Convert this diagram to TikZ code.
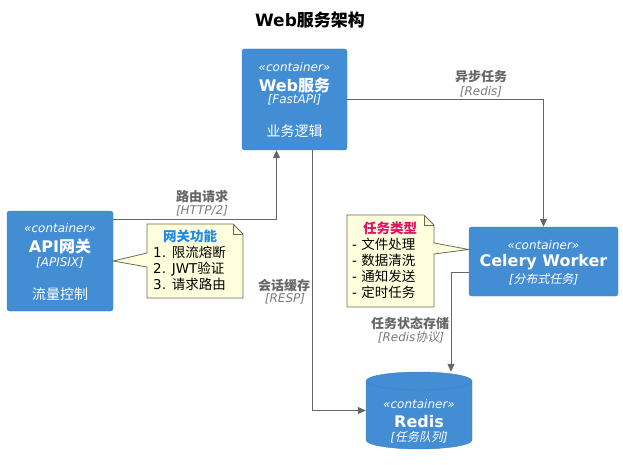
\documentclass[tikz,border=0pt]{standalone}
\usepackage{fontspec}
\setmainfont{DejaVu Sans}
\newfontfamily\cjk[AutoFakeSlant=0.2]{Noto Sans CJK SC}
\newcommand\zh[1]{{\cjk #1}}
\usetikzlibrary{arrows.meta}
\usetikzlibrary{positioning}

\definecolor{boxblue}{HTML}{438DD5}
\definecolor{boxline}{HTML}{3C7FC0}
\definecolor{relgray}{HTML}{666666}
\definecolor{techgray}{HTML}{7A7A7A}
\definecolor{notefill}{HTML}{FFFFDD}
\definecolor{noteline}{HTML}{6B6B55}
\definecolor{gwblue}{HTML}{1E8AE6}
\definecolor{taskred}{HTML}{DE1464}

\begin{document}
\begin{tikzpicture}[x=1pt, y=-1pt,
  container/.style={draw=boxline, fill=boxblue, rounded corners=2.5pt, inner sep=0pt},
  stereo/.style={text=white, font=\fontsize{12}{14}\selectfont\itshape, inner sep=0pt},
  cname/.style={text=white, font=\fontsize{16}{19}\selectfont\bfseries, inner sep=0pt},
  descr/.style={text=white, font=\fontsize{14}{16}\selectfont, inner sep=0pt},
  rel/.style={draw=relgray, line width=1pt, -{Triangle[length=8pt,width=7pt]}},
  rellabel/.style={text=relgray, font=\fontsize{13}{15}\selectfont\bfseries, inner sep=0pt},
  reltech/.style={text=techgray, font=\fontsize{12}{14}\selectfont\itshape, inner sep=0pt},
  note/.style={draw=noteline, fill=notefill, line width=0.8pt},
  notetext/.style={font=\fontsize{13.5}{16}\selectfont, align=left, inner sep=0pt},
  notetitle/.style={font=\fontsize{13.5}{16}\selectfont\bfseries, inner sep=0pt},
]
\useasboundingbox (0,0) rectangle (623,465);

\node[font=\fontsize{17}{20}\selectfont\bfseries, inner sep=0pt] (title) at (310,20) {Web\zh{服务架构}};

% containers
\node[container, minimum width=105pt, minimum height=101pt] (web) at (294.5,99.5) {};
\node[stereo] (webStereo) at (294.5,67) {«container»};
\node[cname] (webName) at (294.5,85) {Web\zh{服务}};
\node[stereo] (webTech) at (294.5,100) {[FastAPI]};
\node[descr] (webDescr) at (294.5,131) {\zh{业务逻辑}};

\node[container, minimum width=106pt, minimum height=100pt] (api) at (60,261) {};
\node[stereo] (apiStereo) at (60,228) {«container»};
\node[cname] (apiName) at (60,246) {API\zh{网关}};
\node[stereo] (apiTech) at (60,263) {[APISIX]};
\node[descr] (apiDescr) at (60,294) {\zh{流量控制}};

\node[container, minimum width=149pt, minimum height=69pt] (celery) at (543.5,261.5) {};
\node[stereo] (celStereo) at (543.5,245) {«container»};
\node[cname] (celName) at (543.5,262) {Celery Worker};
\node[stereo] (celTech) at (543.5,279) {[\zh{分布式任务}]};

% redis cylinder
\node[minimum width=106pt, minimum height=77pt, inner sep=0pt] (redis) at (419,410.5) {};
\filldraw[draw=boxline, fill=boxblue] (366,381) -- (366,440)
  arc[start angle=180, end angle=360, x radius=53pt, y radius=9pt] -- (472,381)
  arc[start angle=0, end angle=180, x radius=53pt, y radius=9pt] -- cycle;
\draw[boxline] (366,381) arc[start angle=180, end angle=360, x radius=53pt, y radius=9pt];
\node[stereo] (redStereo) at (419,404) {«container»};
\node[cname] (redName) at (419,422) {Redis};
\node[stereo] (redTech) at (419,437) {[\zh{任务队列}]};

% notes
\filldraw[note] (147,224) -- (233,224) -- (243,234) -- (243,298) -- (147,298)
  -- (147,267) -- (api.east) -- (147,253) -- cycle;
\draw[note, fill=none] (233,224) -- (233,234) -- (243,234);
\node[notetitle, text=gwblue] (gwTitle) at (190,236) {\zh{网关功能}};
\node[notetext, anchor=west] (gwItems) at (153,268)
  {1. \zh{限流熔断}\\2. JWT\zh{验证}\\3. \zh{请求路由}};

\filldraw[note] (347,215) -- (424,215) -- (434,225) -- (434,243)
  -- ([yshift=12pt]celery.west) -- (434,254) -- (434,307) -- (347,307) -- cycle;
\draw[note, fill=none] (424,215) -- (424,225) -- (434,225);
\node[notetitle, text=taskred] (taskTitle) at (390,228) {\zh{任务类型}};
\node[notetext, anchor=west] (taskItems) at (352,268)
  {- \zh{文件处理}\\- \zh{数据清洗}\\- \zh{通知发送}\\- \zh{定时任务}};

% relations
\draw[rel] ([yshift=42pt]api.east) -| ([xshift=-18pt]web.south);
\draw[rel] (web.east) -| (celery.north);
\draw[rel] ([xshift=17.5pt]web.south) |- (redis.west);
\draw[rel] ([yshift=-10.5pt]celery.west) -| ([xshift=32pt]redis.north);

\node[rellabel] (routeLbl) at (202,197) {\zh{路由请求}};
\node[reltech] (routeTech) at (202,211) {[HTTP/2]};
\node[rellabel] (asyncLbl) at (481,77) {\zh{异步任务}};
\node[reltech] (asyncTech) at (481,92) {[Redis]};
\node[rellabel] (sessLbl) at (284,286) {\zh{会话缓存}};
\node[reltech] (sessTech) at (285,299) {[RESP]};
\node[rellabel] (stateLbl) at (410,323) {\zh{任务状态存储}};
\node[reltech] (stateTech) at (411,337) {[Redis\zh{协议}]};
\end{tikzpicture}
\end{document}
